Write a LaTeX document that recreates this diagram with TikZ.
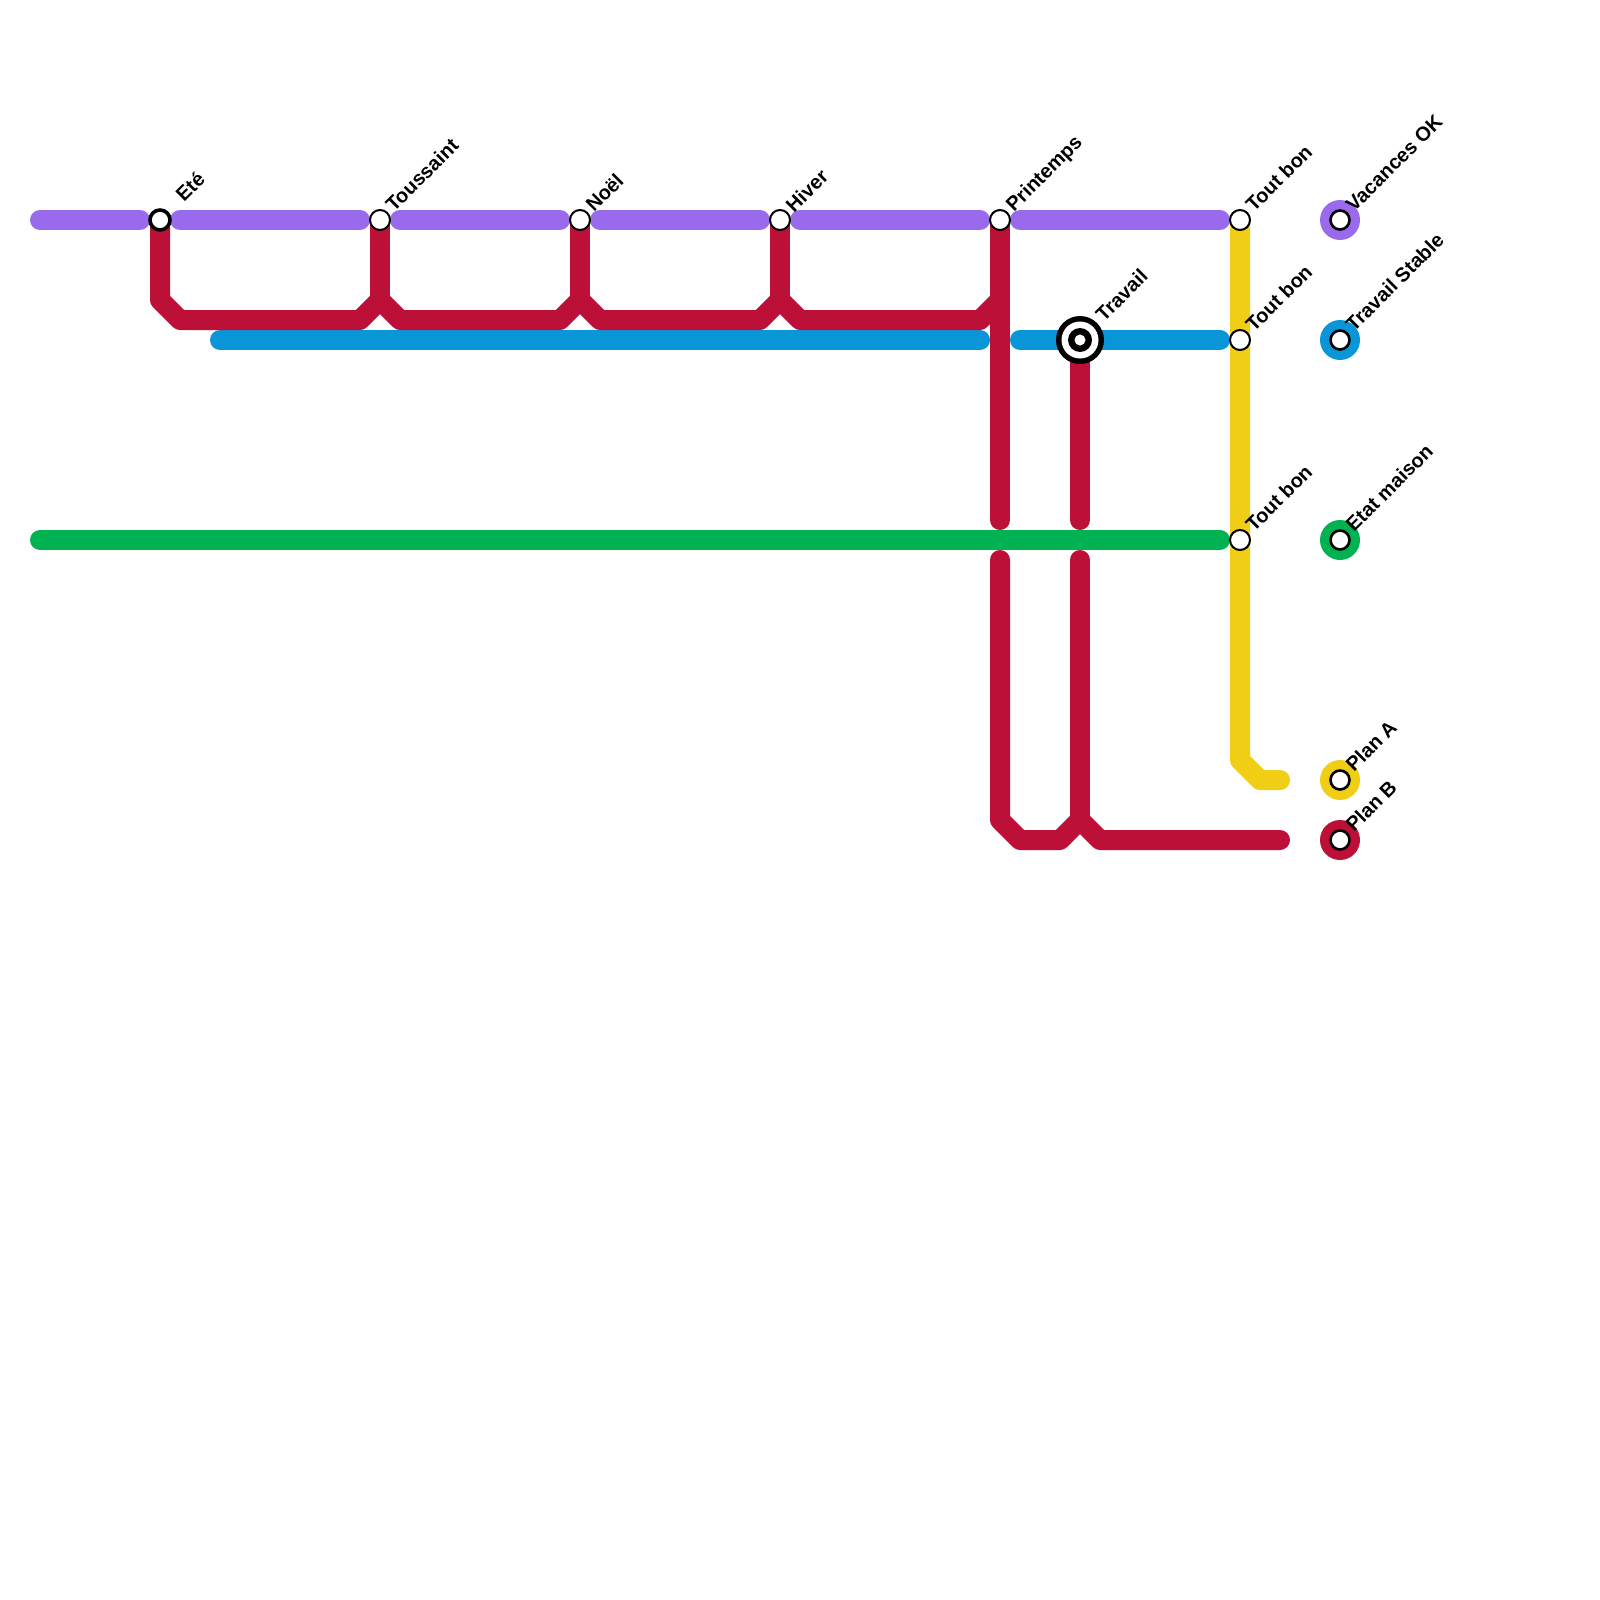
\documentclass[tikz,border=0pt]{standalone}
\usepackage{fontspec}
\setmainfont{Liberation Sans}
\definecolor{cpurple}{HTML}{996AEC}
\definecolor{cred}{HTML}{BC1038}
\definecolor{cblue}{HTML}{0996D7}
\definecolor{cgreen}{HTML}{00B251}
\definecolor{cyellow}{HTML}{F0CE15}
\tikzset{
  route/.style={line width=20pt,line cap=round,line join=round},
  stationdot/.style={circle,draw=black,fill=white,line width=2pt,minimum size=20pt,inner sep=0pt},
  stationbold/.style={circle,draw=black,fill=white,line width=3.6pt,minimum size=20pt,inner sep=0pt},
  legenddot/.style={circle,draw=black,fill=white,line width=2.6pt,minimum size=19pt,inner sep=0pt},
  legendhalo/.style={circle,minimum size=40pt,inner sep=0pt},
  stationlabel/.style={font=\fontsize{20pt}{24pt}\selectfont\bfseries,rotate=45,anchor=base west,inner sep=0pt,text=black},
}
\begin{document}
\begin{tikzpicture}[x=1pt,y=-1pt]
\useasboundingbox (0,0) rectangle (1600,1600);
\fill[white] (0,0) rectangle (1600,1600);
% named way points
\foreach \n/\x/\y in {pa/40/220,pb/140/220,pc/180/220,pd/360/220,pe/400/220,pf/560/220,pg/600/220,ph/760/220,pi/800/220,pj/980/220,pk/1020/220,pl/1220/220,
  ba/220/340,bb/980/340,bc/1020/340,bd/1220/340,ga/40/540,gb/1220/540,
  ya/1240/760,yb/1260/780,yc/1280/780,
  ra/160/300,rb/180/320,rc/360/320,rd/380/300,re/400/320,rf/560/320,rg/580/300,rh/600/320,ri/760/320,rj/780/300,rk/800/320,rl/980/320,rm/1000/300,
  rn/1000/520,ro/1000/560,rp/1000/820,rq/1020/840,rr/1060/840,rs/1080/820,rt/1100/840,ru/1280/840,rv/1080/520,rw/1080/560}
  {\coordinate (\n) at (\x,\y);}
% stations defined first so routes can refer to them
\path
  (160,220) coordinate (cEte)
  (380,220) coordinate (cTous)
  (580,220) coordinate (cNoel)
  (780,220) coordinate (cHiver)
  (1000,220) coordinate (cPrin)
  (1080,340) coordinate (cTrav)
  (1240,220) coordinate (cBon)
  (1240,340) coordinate (cBonb)
  (1240,540) coordinate (cBonc);
% routes
\draw[route,cblue] (ba) -- (bb);
\draw[route,cblue] (bc) -- (bd);
\draw[route,cred] (cEte) -- (ra) -- (rb) -- (rc) -- (rd) -- (re) -- (rf) -- (rg) -- (rh) -- (ri) -- (rj) -- (rk) -- (rl) -- (rm);
\draw[route,cred] (cTous) -- (rd);
\draw[route,cred] (cNoel) -- (rg);
\draw[route,cred] (cHiver) -- (rj);
\draw[route,cred] (cPrin) -- (rn);
\draw[route,cred] (ro) -- (rp) -- (rq) -- (rr) -- (rs) -- (rt) -- (ru);
\draw[route,cred] (cTrav) -- (rv);
\draw[route,cred] (rw) -- (rs);
\draw[route,cyellow] (cBon) -- (ya) -- (yb) -- (yc);
\draw[route,cpurple] (pa) -- (pb);
\draw[route,cpurple] (pc) -- (pd);
\draw[route,cpurple] (pe) -- (pf);
\draw[route,cpurple] (pg) -- (ph);
\draw[route,cpurple] (pi) -- (pj);
\draw[route,cpurple] (pk) -- (pl);
\draw[route,cgreen] (ga) -- (gb);
% stations
\node[stationbold] (ete) at (cEte) {};
\node[stationdot] (tous) at (cTous) {};
\node[stationdot] (noel) at (cNoel) {};
\node[stationdot] (hiver) at (cHiver) {};
\node[stationdot] (prin) at (cPrin) {};
\node[stationdot] (bona) at (cBon) {};
\node[stationdot] (bonb) at (cBonb) {};
\node[stationdot] (bonc) at (cBonc) {};
\node[circle,fill=black,minimum size=48pt,inner sep=0pt] (travo) at (cTrav) {};
\node[circle,fill=white,minimum size=37pt,inner sep=0pt] (travw) at (cTrav) {};
\node[circle,fill=black,minimum size=24pt,inner sep=0pt] (travi) at (cTrav) {};
\node[circle,fill=white,minimum size=11pt,inner sep=0pt] (travc) at (cTrav) {};
% legend
\node[legendhalo,fill=cpurple] (hA) at (1340,220) {};
\node[legendhalo,fill=cblue] (hB) at (1340,340) {};
\node[legendhalo,fill=cgreen] (hC) at (1340,540) {};
\node[legendhalo,fill=cyellow] (hD) at (1340,780) {};
\node[legendhalo,fill=cred] (hE) at (1340,840) {};
\node[legenddot] (lA) at (hA) {};
\node[legenddot] (lB) at (hB) {};
\node[legenddot] (lC) at (hC) {};
\node[legenddot] (lD) at (hD) {};
\node[legenddot] (lE) at (hE) {};
% labels
\node[stationlabel] (tEte) at (184,203) {Eté};
\node[stationlabel] (tTous) at (394,213) {Toussaint};
\node[stationlabel] (tNoel) at (594,213) {Noël};
\node[stationlabel] (tHiver) at (794,214) {Hiver};
\node[stationlabel] (tPrin) at (1014,213) {Printemps};
\node[stationlabel] (tTrav) at (1104,323) {Travail};
\node[stationlabel] (tBona) at (1254,213) {Tout bon};
\node[stationlabel] (tBonb) at (1254,333) {Tout bon};
\node[stationlabel] (tBonc) at (1254,533) {Tout bon};
\node[stationlabel] (tA) at (1354,213) {Vacances OK};
\node[stationlabel] (tB) at (1354,333) {Travail Stable};
\node[stationlabel] (tC) at (1354,533) {Etat maison};
\node[stationlabel] (tD) at (1354,773) {Plan A};
\node[stationlabel] (tE) at (1354,833) {Plan B};
\end{tikzpicture}
\end{document}
